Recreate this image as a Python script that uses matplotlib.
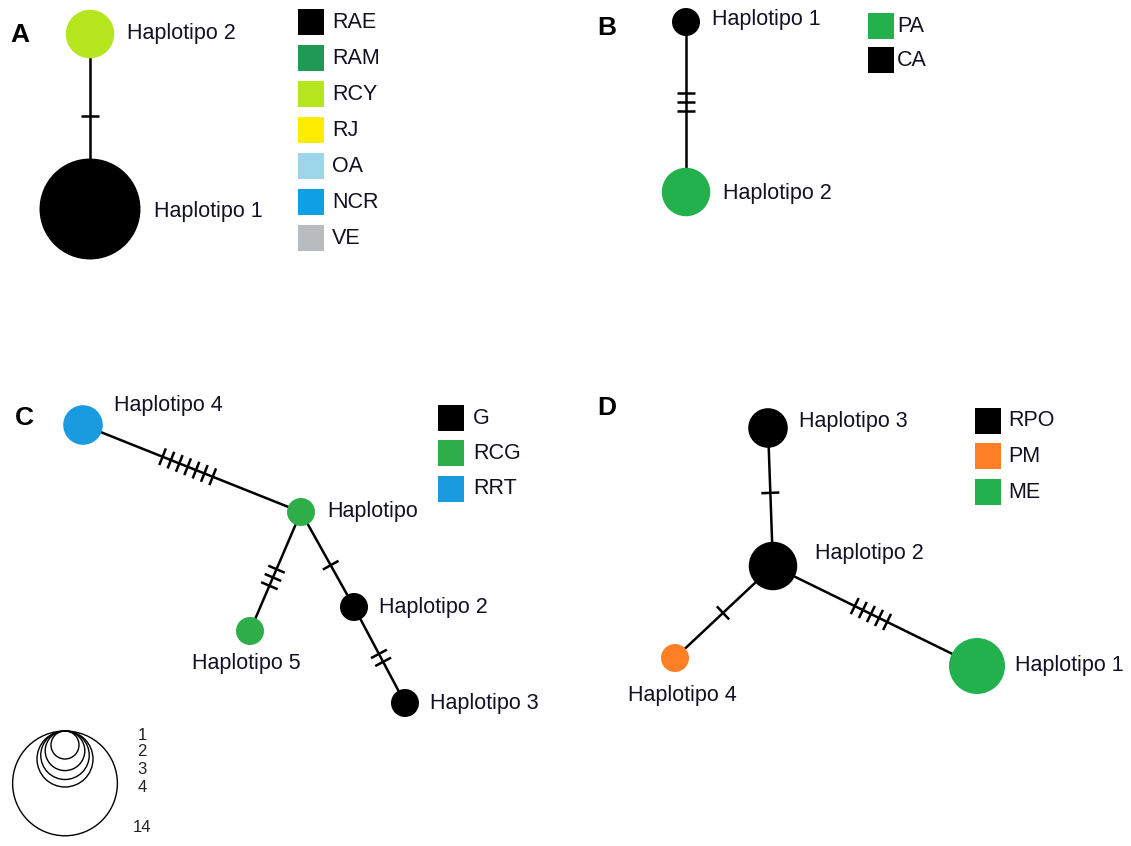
import numpy as np
import matplotlib
matplotlib.use("Agg")
import matplotlib.pyplot as plt
from matplotlib.patches import Circle, Rectangle

plt.rcParams["font.family"] = ["Liberation Sans", "DejaVu Sans"]

# --- data: haplotype networks ---------------------------------------------
# sample counts per haplotype (node area is proportional to count)
a_haps = ["Haplotipo 1", "Haplotipo 2"]
a_counts = [13, 3]
a_colors = ["#000000", "#b5e61d"]
a_edges = [(1, 0)]
a_steps = [1]
a_pops = ["RAE", "RAM", "RCY", "RJ", "OA", "NCR", "VE"]
a_pop_colors = ["#000000", "#1f9a55", "#b5e61d", "#ffec00", "#9dd6ea", "#0fa0e3", "#b9bcbf"]

b_haps = ["Haplotipo 1", "Haplotipo 2"]
b_counts = [1, 3]
b_colors = ["#000000", "#22b14c"]
b_edges = [(0, 1)]
b_steps = [3]
b_pops = ["PA", "CA"]
b_pop_colors = ["#22b14c", "#000000"]

c_haps = ["Haplotipo", "Haplotipo 2", "Haplotipo 3", "Haplotipo 4", "Haplotipo 5"]
c_counts = [1, 1, 1, 2, 1]
c_colors = ["#2eae48", "#000000", "#000000", "#1a9be0", "#2eae48"]
c_edges = [(3, 0), (0, 4), (0, 1), (1, 2)]
c_steps = [7, 3, 1, 2]
c_pops = ["G", "RCG", "RRT"]
c_pop_colors = ["#000000", "#2eae48", "#1a9be0"]

d_haps = ["Haplotipo 1", "Haplotipo 2", "Haplotipo 3", "Haplotipo 4"]
d_counts = [4, 3, 2, 1]
d_colors = ["#22b14c", "#000000", "#000000", "#ff7f27"]
d_edges = [(2, 1), (1, 3), (1, 0)]
d_steps = [1, 1, 5]
d_pops = ["RPO", "PM", "ME"]
d_pop_colors = ["#000000", "#ff7f27", "#22b14c"]

scale_counts = [1, 2, 3, 4, 14]

# --- layout (pixel coordinates on an 1131 x 846 canvas) ---------------------
R1 = 14.0  # radius of a single-sample node
panels = [
    dict(letter="A", letter_xy=(10, 35),
         haps=a_haps, counts=a_counts, colors=a_colors, edges=a_edges, steps=a_steps,
         pops=a_pops, pop_colors=a_pop_colors,
         node_xy=[(90, 209), (90, 34)],
         label_xy=[(154, 211), (127, 34)],
         tick_t=[0.47],
         legend=(298, 22, 36, 332)),
    dict(letter="B", letter_xy=(597, 28),
         haps=b_haps, counts=b_counts, colors=b_colors, edges=b_edges, steps=b_steps,
         pops=b_pops, pop_colors=b_pop_colors,
         node_xy=[(686, 22), (686, 192)],
         label_xy=[(712, 20), (723, 193)],
         tick_t=[0.47],
         legend=(868, 26, 34, 897)),
    dict(letter="C", letter_xy=(15, 418),
         haps=c_haps, counts=c_counts, colors=c_colors, edges=c_edges, steps=c_steps,
         pops=c_pops, pop_colors=c_pop_colors,
         node_xy=[(301, 512), (354, 607), (405, 703), (83, 425), (250, 631)],
         label_xy=[(327, 512), (379, 607), (430, 703), (114, 405), (192, 663)],
         tick_t=[0.48, 0.55, 0.56, 0.53],
         legend=(438, 418, 35.5, 473)),
    dict(letter="D", letter_xy=(597, 408),
         haps=d_haps, counts=d_counts, colors=d_colors, edges=d_edges, steps=d_steps,
         pops=d_pops, pop_colors=d_pop_colors,
         node_xy=[(977, 666), (773, 566), (768, 428), (675, 658)],
         label_xy=[(1015, 665), (815, 553), (799, 422), (628, 695)],
         tick_t=[0.47, 0.51, 0.48],
         legend=(975, 421, 35.5, 1008)),
]

FS = 15.5
SQ = 26
TICK_LEN = 18
TICK_GAP = 9

fig = plt.figure(figsize=(11.31, 8.46), dpi=100)
ax = fig.add_axes([0, 0, 1, 1])
ax.set_xlim(0, 1131)
ax.set_ylim(846, 0)
ax.set_aspect("equal")
ax.axis("off")


def draw_ticks(p0, p1, n, t):
    p0 = np.array(p0, float)
    p1 = np.array(p1, float)
    d = p1 - p0
    u = d / np.linalg.norm(d)
    perp = np.array([-u[1], u[0]])
    mid = p0 + d * t
    offsets = (np.arange(n) - (n - 1) / 2) * TICK_GAP
    for off in offsets:
        c = mid + u * off
        a = c - perp * TICK_LEN / 2
        b = c + perp * TICK_LEN / 2
        ax.plot([a[0], b[0]], [a[1], b[1]], color="black", lw=1.8,
                solid_capstyle="butt", zorder=2)


for p in panels:
    xy = p["node_xy"]
    for (i, j), n, t in zip(p["edges"], p["steps"], p["tick_t"]):
        ax.plot([xy[i][0], xy[j][0]], [xy[i][1], xy[j][1]], color="black", lw=1.8, zorder=1)
        draw_ticks(xy[i], xy[j], n, t)
    for k, name in enumerate(p["haps"]):
        r = R1 * np.sqrt(p["counts"][k])
        ax.add_patch(Circle(xy[k], r, facecolor=p["colors"][k], edgecolor="none", zorder=3))
        lx, ly = p["label_xy"][k]
        ax.text(lx, ly, name, fontsize=FS, ha="left", va="center", color="#111122")
    lx, ly = p["letter_xy"]
    ax.text(lx, ly, p["letter"], fontsize=19, fontweight="bold", ha="left", va="center")
    sx, sy0, step, tx = p["legend"]
    for k, (pop, col) in enumerate(zip(p["pops"], p["pop_colors"])):
        cy = sy0 + k * step
        ax.add_patch(Rectangle((sx, cy - SQ / 2), SQ, SQ, facecolor=col, edgecolor="none"))
        ax.text(tx, cy, pop, fontsize=FS, ha="left", va="center", color="#111122")

# node-size scale: nested circles sharing the same top point
top_y = 731
cx = 65
for n in scale_counts[::-1]:
    r = R1 * np.sqrt(n)
    ax.add_patch(Circle((cx, top_y + r), r, facecolor="none", edgecolor="black", lw=1.0))
scale_label_y = [735, 752, 770, 788, 828]
for n, y in zip(scale_counts, scale_label_y):
    ax.text(142, y, str(n), fontsize=12, ha="center", va="center", color="#222222")

fig.savefig("out.png", dpi=100, facecolor="white")
